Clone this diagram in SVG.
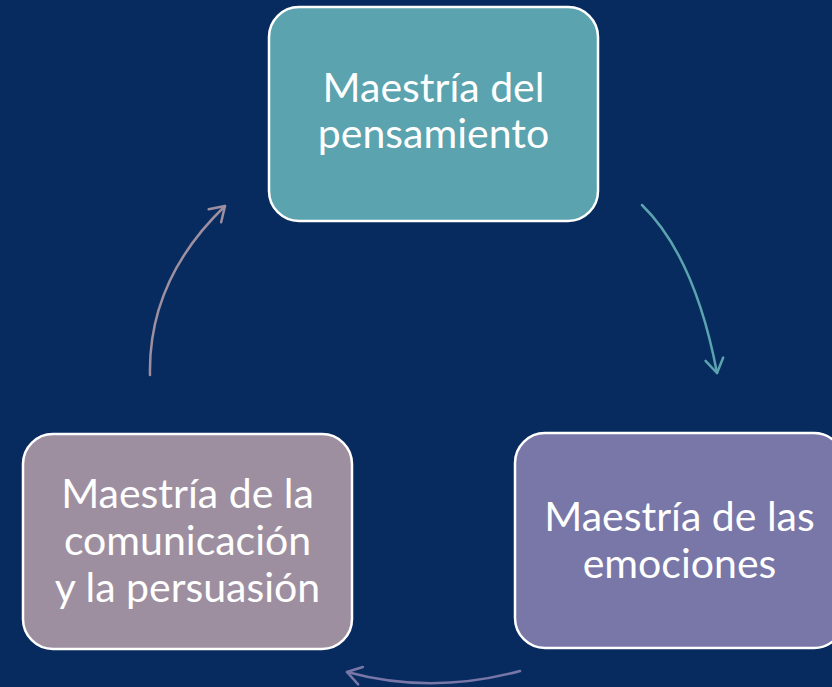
<svg xmlns="http://www.w3.org/2000/svg" width="832" height="687" viewBox="0 0 832 687">
<style>
.box{stroke:#ffffff;stroke-width:2.5}
.lbl{font-family:Lato,"Open Sans","Liberation Sans",sans-serif;font-size:41px;fill:#ffffff;text-anchor:middle}
.conn{fill:none;stroke-width:2.5;stroke-linecap:round}
</style>
<defs>
<marker id="mTeal" markerUnits="userSpaceOnUse" viewBox="-16 -11 18 22" markerWidth="18" markerHeight="22" refX="0" refY="0" orient="auto"><path d="M-14,-9 L0,0 L-14,9" fill="none" stroke="#5BA3AF" stroke-width="2.5" stroke-linecap="round" stroke-linejoin="round"/></marker>
<marker id="mPurple" markerUnits="userSpaceOnUse" viewBox="-16 -11 18 22" markerWidth="18" markerHeight="22" refX="0" refY="0" orient="auto"><path d="M-14,-9 L0,0 L-14,9" fill="none" stroke="#7877A8" stroke-width="2.5" stroke-linecap="round" stroke-linejoin="round"/></marker>
<marker id="mGrey" markerUnits="userSpaceOnUse" viewBox="-16 -11 18 22" markerWidth="18" markerHeight="22" refX="0" refY="0" orient="auto"><path d="M-14,-9 L0,0 L-14,9" fill="none" stroke="#9E8FA0" stroke-width="2.5" stroke-linecap="round" stroke-linejoin="round"/></marker>
</defs>
<rect width="832" height="687" fill="#072B5F"/>
<g id="connectors">
<path class="conn" d="M642,205 Q695,257 717,373" stroke="#5BA3AF" marker-end="url(#mTeal)"/>
<path class="conn" d="M520,671 Q432,695 347,672" stroke="#7877A8" marker-end="url(#mPurple)"/>
<path class="conn" d="M150,375 Q148,280 225,206" stroke="#9E8FA0" marker-end="url(#mGrey)"/>
</g>
<g id="node-pensamiento">
<rect class="box" x="269" y="7" width="329" height="214" rx="30" fill="#5BA3AF"/>
<text class="lbl" x="433.5" y="102">Maestría del</text>
<text class="lbl" x="433.5" y="148">pensamiento</text>
</g>
<g id="node-emociones">
<rect class="box" x="515" y="433" width="329" height="215" rx="30" fill="#7877A8"/>
<text class="lbl" x="679.5" y="531">Maestría de las</text>
<text class="lbl" x="679.5" y="578">emociones</text>
</g>
<g id="node-comunicacion">
<rect class="box" x="23" y="434" width="329" height="215" rx="30" fill="#9E8FA0"/>
<text class="lbl" x="187.5" y="508">Maestría de la</text>
<text class="lbl" x="187.5" y="555">comunicación</text>
<text class="lbl" x="187.5" y="602">y la persuasión</text>
</g>
</svg>
